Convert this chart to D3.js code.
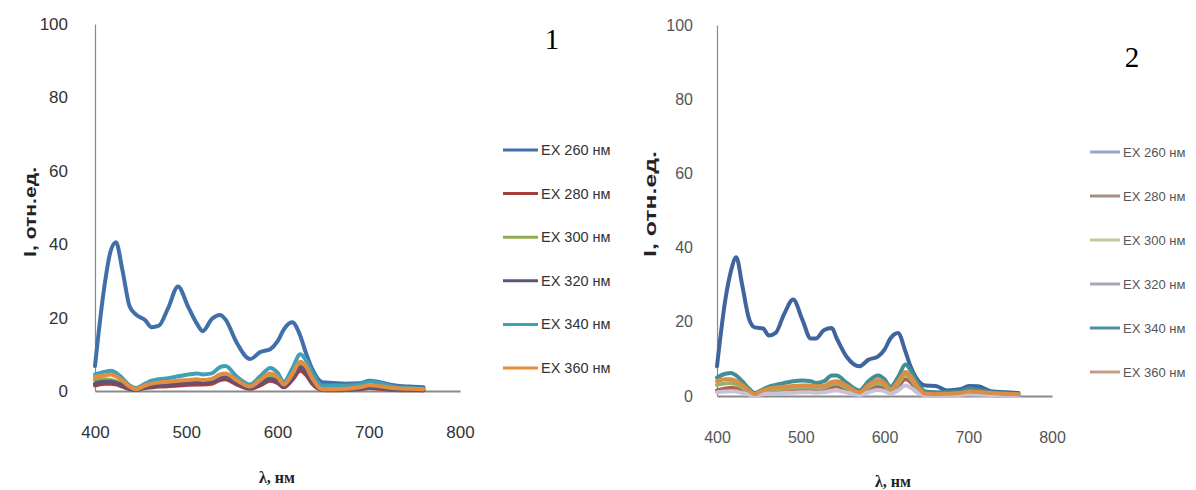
<!DOCTYPE html>
<html><head><meta charset="utf-8">
<script src="https://cdn.jsdelivr.net/npm/d3@7"></script>
<style>body{margin:0;background:#fff}svg{display:block}</style>
</head><body>
<svg id="chart" width="1196" height="490"></svg>
<script>
// ---------------- data ----------------
const wavelengths = [400,410,417,423,430,438,445,455,462,470,480,491,502,512,518,528,537,543,555,570,581,592,600,607,616,625,631,638,649,661,675,690,701,712,727,745,760];
const seriesNames = ["EX 260 нм","EX 280 нм","EX 300 нм","EX 320 нм","EX 340 нм","EX 360 нм"];
const xTicks = [400,500,600,700,800];
const yTicks = [0,20,40,60,80,100];
const panelLabels = ["1","2"];
const xTitle = "λ, нм";
const yTitle = "I, отн.ед.";

// panel 1
const p1_ex260 = [6.8,28,38,40.5,33,23,20.8,19.3,17.4,17.8,22.5,28.5,23,18.2,16.3,19.6,20.7,19.5,13.3,8.7,10.6,11.4,13.5,16.8,18.7,15,10.5,6,2.4,2.2,2,2.1,2.8,2.4,1.6,1.2,1];
const p1_ex280 = [1.5,2,2,1.8,1.2,0.5,0.3,0.8,1,1.2,1.3,1.5,1.7,1.8,1.8,2,3,3.2,1.8,0.6,1.5,2.8,2.2,1,3,5.5,4.5,2,0.3,0.2,0.3,0.5,0.8,0.6,0.3,0.2,0.2];
const p1_ex300 = [3,3.2,3,2.6,2,0.8,0.4,1.2,1.6,2,2.2,2.5,2.8,3,2.8,3,4,4.2,2.5,1,2.5,4,3.2,1.5,4,7.5,6,3,0.5,0.4,0.5,0.8,1.2,1,0.5,0.4,0.3];
const p1_ex320 = [2,2.5,2.5,2.2,1.6,0.6,0.3,1,1.3,1.6,1.8,2,2.3,2.4,2.3,2.5,3.5,3.6,2.2,0.8,2,3.3,2.6,1.2,3.5,6.5,5.2,2.5,0.4,0.3,0.4,0.6,1,0.8,0.4,0.3,0.2];
const p1_ex340 = [4.5,5.2,5.5,5,3.5,1.5,0.8,2,2.8,3.2,3.5,4,4.5,4.8,4.5,4.8,6.5,6.8,4,1.8,4,6.3,5,2.5,6,10,8.5,5,1.5,1.5,1.5,1.8,2.6,2.2,1.2,0.8,0.6];
const p1_ex360 = [3.8,4.3,4.5,4,2.8,1.2,0.5,1.5,2,2.3,2.5,2.8,3,3.2,3,3.3,4.5,4.8,3,1.2,3,4.8,3.8,1.8,4.5,8,6.8,3.5,0.5,0.5,0.6,1,1.6,1.3,0.8,0.6,0.5];

// panel 2
const p2_ex260 = [8,26,34,37.4,30,21,18.5,18.2,16.3,17,22,26,20.5,15.5,15.5,17.8,18.3,15.5,10.5,8,9.8,10.6,12.5,15.5,17,12,8,4.8,2.8,2.7,1.5,1.8,2.7,2.6,1.3,1,0.8];
const p2_ex280 = [1.5,2,2.2,2,1.4,0.6,0.3,0.8,1,1.1,1.2,1.4,1.5,1.5,1.4,1.6,2.4,2.6,1.5,0.5,1.4,2.4,2,0.9,2.5,4.5,3.8,1.8,0.3,0.2,0.3,0.4,0.7,0.6,0.3,0.2,0.2];
const p2_ex300 = [3,3.4,3.5,3.1,2.3,1,0.4,1.2,1.6,1.8,2,2.2,2.3,2.3,2.1,2.3,3.2,3.4,2.2,0.8,2.4,3.6,2.9,1.4,3.2,5.8,4.8,2.5,0.5,0.4,0.5,0.7,1,0.9,0.6,0.4,0.3];
const p2_ex320 = [1,1.2,1.3,1.2,0.8,0.4,0.2,0.5,0.6,0.7,0.8,0.9,1,1,0.9,1,1.4,1.5,0.9,0.3,1,1.6,1.3,0.6,1.5,2.8,2.3,1.1,0.2,0.1,0.2,0.3,0.5,0.4,0.2,0.1,0.1];
const p2_ex340 = [5,6,6.2,5.5,4,2,0.8,1.8,2.5,3,3.5,4,4.2,4,3.5,4,5.5,5.5,3.5,1.5,4,5.5,4.5,2.5,5,8.5,7,4,1.2,1,1,1.2,2,1.6,1,0.7,0.5];
const p2_ex360 = [4,4.5,4.5,4,3,1.5,0.5,1.5,2,2.3,2.5,2.7,2.8,2.8,2.6,2.8,3.8,4,2.7,1,3,4.3,3.5,1.8,3.8,6.5,5.5,3,0.6,0.5,0.6,0.8,1.2,1.1,0.8,0.6,0.5];

// ---------------- styles ----------------
const lineColors1 = ["#416fa9","#a63e3b","#8fac4e","#5f5379","#3fa0b8","#e58d3e"];
const lineColors2 = ["#3f649e","#b0644e","#9ab06a","#c8c2d8","#3f8f94","#db8c45"];
const legendColors2 = ["#93a9c9","#a88c80","#bccda0","#aaa4c0","#4d8ca0","#c89a88"];

const panels = [
  {series:[p1_ex260,p1_ex280,p1_ex300,p1_ex320,p1_ex340,p1_ex360], colors:lineColors1, legendColors:lineColors1,
   x0:95, x1:460, yTop:24, yBot:391, tickRight:68, xLabelY:438, xTitleX:277, xTitleY:483, yTitleX:36, yTitleMid:212, yTitleLen:90,
   legendX0:503, legendX1:538, legendY0:150, legendStep:43.6, legendFont:14.5, legendTextColor:"#333", tickColor:"#333", tickFont:17,
   labelX:552, labelY:49},
  {series:[p2_ex260,p2_ex280,p2_ex300,p2_ex320,p2_ex340,p2_ex360], colors:lineColors2, legendColors:legendColors2,
   x0:717, x1:1052, yTop:25, yBot:396, tickRight:693, xLabelY:443, xTitleX:893, xTitleY:487, yTitleX:656, yTitleMid:204, yTitleLen:106,
   legendX0:1090, legendX1:1120, legendY0:152, legendStep:44, legendFont:13, legendTextColor:"#555", tickColor:"#555", tickFont:16,
   labelX:1132, labelY:67}
];

const svg = d3.select("#chart");

panels.forEach((p, pi) => {
  const x = d3.scaleLinear().domain([400,800]).range([p.x0,p.x1]);
  const y = d3.scaleLinear().domain([0,100]).range([p.yBot,p.yTop]);
  const g = svg.append("g");

  // y axis
  const yAxis = d3.axisLeft(y).tickValues(yTicks).tickSize(0).tickPadding(p.x0 - p.tickRight);
  const ya = g.append("g").attr("transform",`translate(${p.x0},0)`).call(yAxis);
  ya.select(".domain").attr("stroke","#8a8a8a").attr("stroke-width",1.2);
  ya.selectAll("text").attr("font-family","Liberation Sans, Arial, sans-serif").attr("font-size",p.tickFont).attr("fill",p.tickColor);

  // x axis
  const xAxis = d3.axisBottom(x).tickValues(xTicks).tickSize(0).tickPadding(0);
  const xa = g.append("g").attr("transform",`translate(0,${p.yBot})`).call(xAxis);
  xa.select(".domain").attr("stroke","#8a8a8a").attr("stroke-width",2);
  xa.selectAll("text").attr("font-family","Liberation Sans, Arial, sans-serif").attr("font-size",p.tickFont).attr("fill",p.tickColor)
    .attr("dy",null).attr("y",p.xLabelY - p.yBot);

  // lines
  const line = d3.line().x((d,i)=>x(wavelengths[i])).y(d=>y(d)).curve(d3.curveMonotoneX);
  p.series.forEach((s,si)=>{
    g.append("path").datum(s).attr("d",line).attr("fill","none")
      .attr("stroke",p.colors[si]).attr("stroke-width",4)
      .attr("stroke-linejoin","round").attr("stroke-linecap","round");
  });

  // legend
  seriesNames.forEach((name,si)=>{
    const ly = p.legendY0 + si*p.legendStep;
    g.append("line").attr("x1",p.legendX0).attr("x2",p.legendX1).attr("y1",ly).attr("y2",ly)
      .attr("stroke",p.legendColors[si]).attr("stroke-width",3);
    g.append("text").attr("x",p.legendX1+3).attr("y",ly).attr("dy","0.35em")
      .attr("font-family","Liberation Sans, Arial, sans-serif").attr("font-size",p.legendFont)
      .attr("fill",p.legendTextColor).text(name);
  });

  // axis titles
  g.append("text").attr("x",p.xTitleX).attr("y",p.xTitleY).attr("text-anchor","middle")
    .attr("font-family","Liberation Serif, Times New Roman, serif").attr("font-weight","bold").attr("font-size",16)
    .attr("fill","#222").text(xTitle);
  g.append("text").attr("transform",`translate(${p.yTitleX},${p.yTitleMid}) rotate(-90)`).attr("text-anchor","middle")
    .attr("font-family","Liberation Sans, Arial, sans-serif").attr("font-weight","bold").attr("font-size",16)
    .attr("textLength",p.yTitleLen).attr("lengthAdjust","spacingAndGlyphs")
    .attr("fill","#222").text(yTitle);

  // panel label
  g.append("text").attr("x",p.labelX).attr("y",p.labelY).attr("text-anchor","middle")
    .attr("font-family","Liberation Serif, Times New Roman, serif").attr("font-size",29)
    .attr("fill","#000").text(panelLabels[pi]);
});
</script>
</body></html>
